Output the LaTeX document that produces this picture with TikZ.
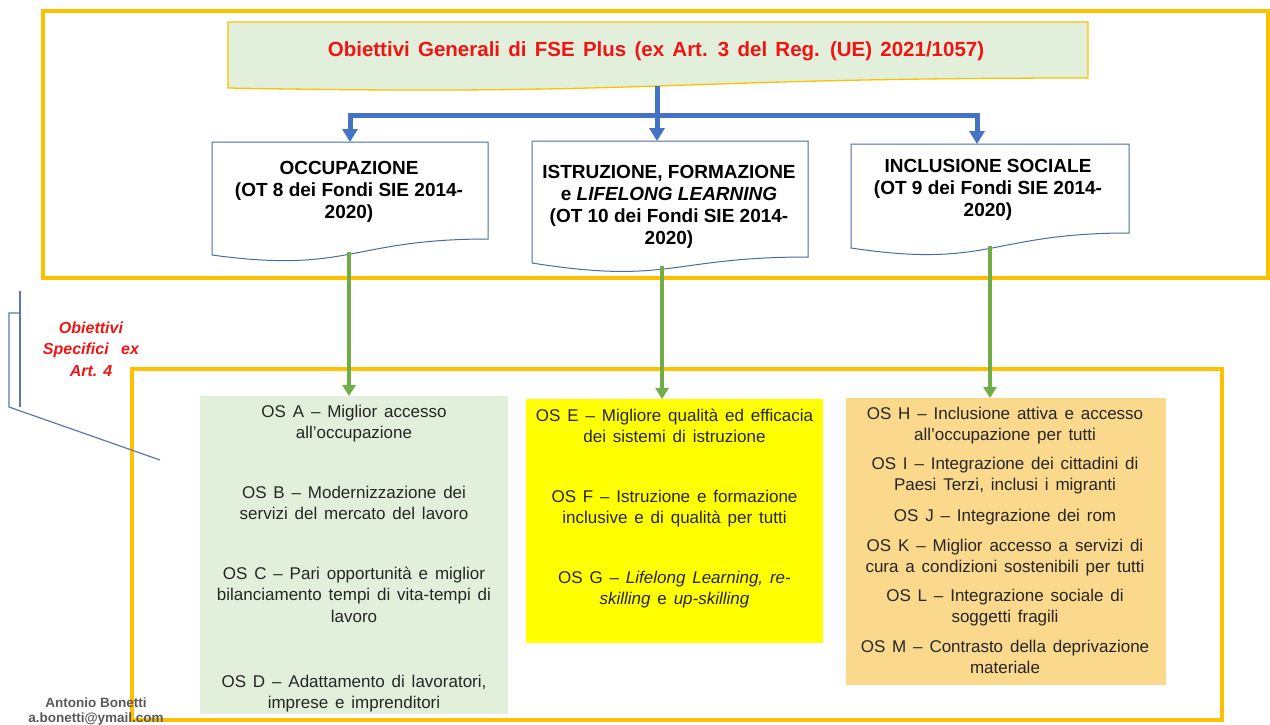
\documentclass[tikz,border=0pt]{standalone}
\usepackage{fontspec}
\setmainfont{Liberation Sans}
\newfontfamily\titlefont{Liberation Sans}[WordSpace=2.3]
\newfontfamily\osfont{Liberation Sans}[WordSpace=1.45]
\usetikzlibrary{arrows.meta}
\definecolor{gold}{HTML}{FFC000}
\definecolor{hdrfill}{HTML}{E2EFDA}
\definecolor{bluec}{HTML}{4472C4}
\definecolor{greenc}{HTML}{70AD47}
\definecolor{docline}{HTML}{4A6C9E}
\definecolor{greenbox}{HTML}{E2EFDA}
\definecolor{yellowbox}{HTML}{FFFF00}
\definecolor{orangebox}{HTML}{FAD88C}
\definecolor{ostext}{HTML}{262626}
\definecolor{titlered}{HTML}{F01414}
\definecolor{bracketc}{HTML}{5B79A8}
\definecolor{authorc}{HTML}{595959}
% style, x, y, w, y right-bottom, y left-bottom, y of second control
\newcommand\docshape[7]{%
  \path[#1] (#2,#3) -- ({#2+#4},#3) -- ({#2+#4},#5)
    .. controls ({#2+0.5*#4},#5) and ({#2+0.5*#4},#7) .. (#2,#6) -- cycle;}
\newcommand\tstrut{\rule{0pt}{16pt}}
\begin{document}
\begin{tikzpicture}[x=1pt,y=-1pt,
  frame/.style={draw=gold,line width=4pt},
  hdrbox/.style={draw=gold,line width=1.3pt,fill=hdrfill},
  docbox/.style={draw=docline,line width=1pt,fill=white},
  doctext/.style={font=\fontsize{19}{22}\selectfont\bfseries,align=center,anchor=north,inner sep=0pt,text=black},
  osbox/.style={draw=none,inner sep=0pt,anchor=north west},
  ostxt/.style={font=\osfont\fontsize{17}{21.5}\selectfont,align=center,anchor=north,inner sep=0pt,text=ostext},
  blueconn/.style={draw=bluec,line width=5pt},
  bluearrow/.style={blueconn,-{Triangle[width=15pt,length=13pt]}},
  greenarrow/.style={draw=greenc,line width=4pt,-{Triangle[width=13pt,length=11pt]}},
  bracket/.style={draw=bracketc,line width=1.2pt},
]
\useasboundingbox (0,0) rectangle (1270,725);

% frames
\draw[frame] (43,11) rectangle (1268,278);
\draw[frame] (132,369) rectangle (1222,720);

% header
\docshape{hdrbox}{228}{22}{860}{78}{88}{96}
\node[font=\titlefont\fontsize{20.5}{24}\selectfont\bfseries,text=titlered,anchor=base,inner sep=0pt] (hdr) at (656,57)
  {Obiettivi Generali di FSE Plus (ex Art. 3 del Reg. (UE) 2021/1057)};

% document boxes
\docshape{docbox}{212}{142}{276}{239}{255}{274}
\docshape{docbox}{532}{141}{276}{257}{263}{285}
\docshape{docbox}{851}{144}{278}{233}{248}{269}
\node[doctext] (occ) at (349,158) {\tstrut OCCUPAZIONE\\(OT 8 dei Fondi SIE 2014-\\2020)};
\node[doctext] (ist) at (669,162) {\tstrut ISTRUZIONE, FORMAZIONE\\e \textit{LIFELONG LEARNING}\\(OT 10 dei Fondi SIE 2014-\\2020)};
\node[doctext] (inc) at (988,156) {\tstrut INCLUSIONE SOCIALE\\(OT 9 dei Fondi SIE 2014-\\2020)};

% blue connectors
\coordinate (hb) at (657,86);
\coordinate (hj) at (657,115);
\coordinate (t1) at (350,142);
\coordinate (t2) at (657,141);
\coordinate (t3) at (977,144);
\draw[blueconn] (hb) -- (hj);
\draw[bluearrow] (hj) -| (t1);
\draw[bluearrow] (hj) -- (t2);
\draw[bluearrow] (hj) -| (t3);

% OS boxes
\node[osbox,fill=greenbox,minimum width=308pt,minimum height=318pt] (osg) at (200,396) {};
\node[osbox,fill=yellowbox,minimum width=297pt,minimum height=244pt] (osy) at (526,399) {};
\node[osbox,fill=orangebox,minimum width=320pt,minimum height=287pt] (oso) at (846,398) {};

% green connectors
\coordinate (g1) at (349,252);
\coordinate (g2) at (662,266);
\coordinate (g3) at (990,246);
\draw[greenarrow] (g1) -- (g1 |- osg.north);
\draw[greenarrow] (g2) -- (g2 |- osy.north);
\draw[greenarrow] (g3) -- (g3 |- oso.north);

% OS texts - green
\node[ostxt] (osa) at (354,401) {\tstrut OS A – Miglior accesso\\all’occupazione};
\node[ostxt] (osb) at (354,482) {\tstrut OS B – Modernizzazione dei\\servizi del mercato del lavoro};
\node[ostxt] (osc) at (354,563) {\tstrut OS C – Pari opportunità e miglior\\bilanciamento tempi di vita-tempi di\\lavoro};
\node[ostxt] (osd) at (354,671) {\tstrut OS D – Adattamento di lavoratori,\\imprese e imprenditori};
% yellow
\node[ostxt] (ose) at (674.5,405) {\tstrut OS E – Migliore qualità ed efficacia\\dei sistemi di istruzione};
\node[ostxt] (osf) at (674.5,486) {\tstrut OS F – Istruzione e formazione\\inclusive e di qualità per tutti};
\node[ostxt] (osgg) at (674.5,567) {\tstrut OS G – \textit{Lifelong Learning, re-}\\\textit{skilling} e \textit{up-skilling}};
% orange
\node[ostxt] (osh) at (1005,403) {\tstrut OS H – Inclusione attiva e accesso\\all’occupazione per tutti};
\node[ostxt] (osi) at (1005,453) {\tstrut OS I – Integrazione dei cittadini di\\Paesi Terzi, inclusi i migranti};
\node[ostxt] (osj) at (1005,505) {\tstrut OS J – Integrazione dei rom};
\node[ostxt] (osk) at (1005,535) {\tstrut OS K – Miglior accesso a servizi di\\cura a condizioni sostenibili per tutti};
\node[ostxt] (osl) at (1005,585) {\tstrut OS L – Integrazione sociale di\\soggetti fragili};
\node[ostxt] (osm) at (1005,636) {\tstrut OS M – Contrasto della deprivazione\\materiale};

% left label and bracket
\node[font=\fontsize{16}{21.5}\selectfont\bfseries\itshape,text=titlered,align=center,anchor=north,inner sep=0pt] (osx) at (91,317)
  {\tstrut Obiettivi\\Specifici\hspace{0.5em} ex\\Art. 4};
\coordinate (b1) at (20,291);
\coordinate (b2) at (20,407);
\coordinate (b3) at (20,313);
\coordinate (b4) at (9,313);
\coordinate (b5) at (9,407);
\coordinate (b6) at (160,460);
\draw[bracket] (b1) -- (b2);
\draw[bracket] (b3) -- (b4) -- (b5) -- (b6);

% author
\node[font=\fontsize{13.5}{15}\selectfont\bfseries,text=authorc,align=center,anchor=north,inner sep=0pt] (auth) at (96,691)
  {\tstrut Antonio Bonetti\\a.bonetti@ymail.com};
\end{tikzpicture}
\end{document}
